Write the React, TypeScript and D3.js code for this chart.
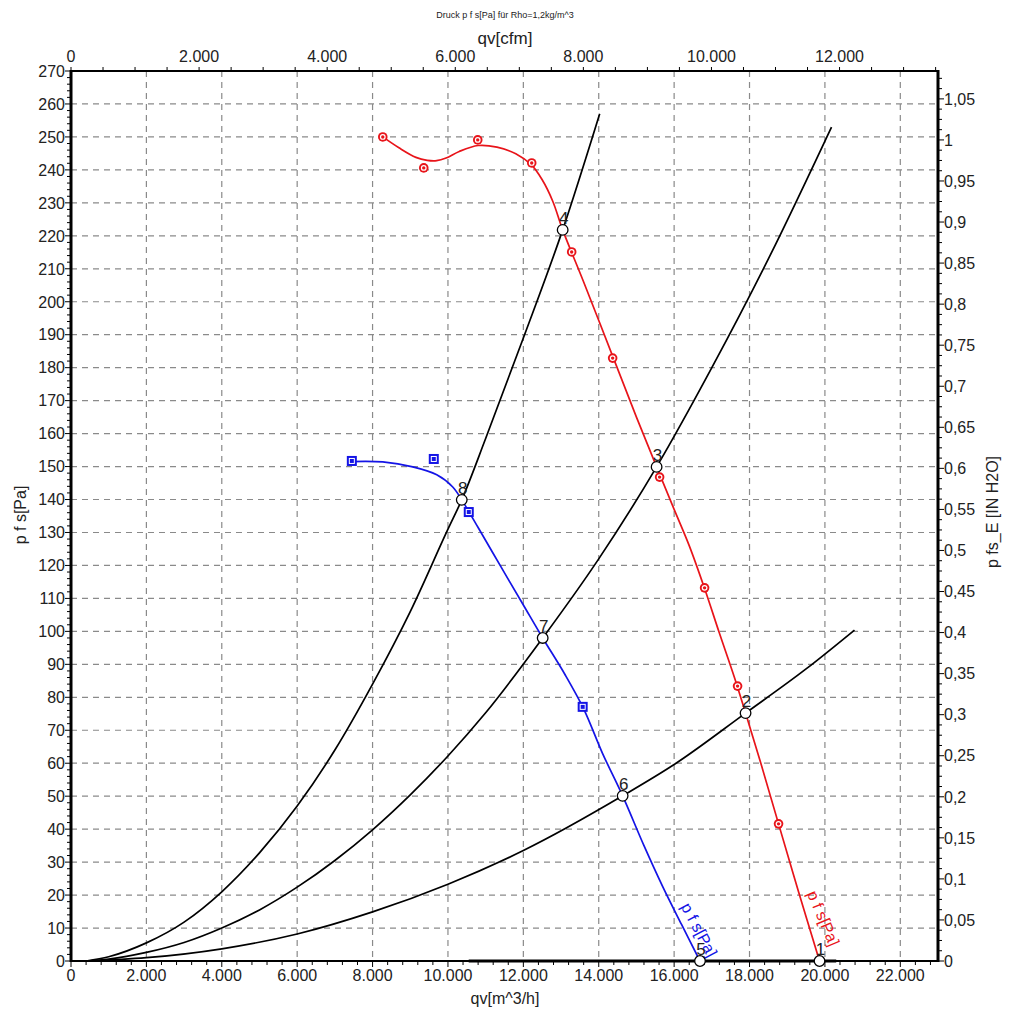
import React from "react";
import * as d3 from "d3";

// ---------- data ----------
const titleText = "Druck p f s[Pa] für Rho=1,2kg/m^3";
const xTicksBottom = [0, 2000, 4000, 6000, 8000, 10000, 12000, 14000, 16000, 18000, 20000, 22000];
const xTicksTopCfm = [0, 2000, 4000, 6000, 8000, 10000, 12000];
const yTicksLeft = d3.range(0, 271, 10);
const yTicksRight = [0, 0.05, 0.1, 0.15, 0.2, 0.25, 0.3, 0.35, 0.4, 0.45, 0.5, 0.55, 0.6, 0.65, 0.7, 0.75, 0.8, 0.85, 0.9, 0.95, 1, 1.05];

// system curves [q m^3/h, p Pa]
const sysCurveA: [number, number][] = [[400, 0], [1000, 1.3], [2000, 5.5], [3000, 11.8], [4000, 21], [5000, 32.8], [6000, 47], [7000, 64], [8000, 84], [9000, 106], [10000, 131], [10366, 139.9], [11000, 158.5], [12000, 189], [13043, 221.8], [14024, 257]];
const sysCurveB: [number, number][] = [[400, 0], [1000, 0.6], [2000, 2.6], [3000, 5.6], [4000, 10], [5000, 15.5], [6000, 22.4], [7000, 30.5], [8000, 39.8], [9000, 50.4], [10000, 62.2], [11000, 75.3], [12513, 98], [14000, 122], [15535, 149.9], [17000, 180], [18500, 213], [20175, 253]];
const sysCurveC: [number, number][] = [[400, 0], [2000, 1], [4000, 3.7], [6000, 8.2], [8000, 14.9], [10000, 23.3], [12000, 33.5], [14634, 50.1], [16000, 59.6], [17895, 75.2], [19500, 88.6], [20785, 100.4]];

// red fan curve (fitted line) and its measured points
const redLine: [number, number][] = [[8271, 250], [8700, 246.7], [9150, 243.8], [9450, 242.9], [9700, 242.8], [9950, 243.6], [10300, 245.6], [10800, 247.4], [11300, 246.9], [11800, 244.9], [12214, 241.5], [12500, 237], [12780, 230.5], [13043, 221.8], [13600, 206], [14369, 183.5], [15000, 165], [15535, 149.9], [16000, 137], [16400, 126], [16808, 113], [17200, 99.5], [17600, 86], [17895, 75.2], [18300, 60], [18770, 41.6], [19300, 21], [19857, 0]];
const redMarkers: [number, number][] = [[8271, 250], [9358, 240.6], [10790, 249.1], [12222, 242.1], [13282, 215.1], [14369, 182.9], [15615, 146.8], [16808, 113.2], [17683, 83.4], [18770, 41.6]];

// blue fan curve and its measured points
const blueLine: [number, number][] = [[7400, 151.5], [8271, 151.4], [9066, 149.9], [9703, 147.5], [10127, 143.8], [10366, 139.9], [10800, 131.5], [11400, 119.7], [12000, 108], [12513, 98], [13100, 87], [13600, 76.5], [14100, 63], [14634, 50.1], [15200, 35], [15700, 22.5], [16200, 11], [16686, 0]];
const blueMarkers: [number, number][] = [[7450, 151.7], [9624, 152.3], [10552, 136.2], [13574, 77.1]];

// operating points
const opLabels = ["1", "2", "3", "4", "5", "6", "7", "8"];
const opQ = [19857, 17895, 15535, 13043, 16686, 14634, 12513, 10366];
const opP = [0, 75.2, 149.9, 221.8, 0, 50.1, 98, 139.9];

const zeroLine: [number, number][] = [[10550, 0], [20300, 0]];

// ---------- layout ----------
const W = 1011, H = 1024;
const L = 71, R = 938, T = 71, B = 961;
const CFM = 1.699011; // m3/h per cfm
const PA_PER_INH2O = 249.089;
const font = "'Liberation Sans', Arial, sans-serif";

export default function App() {
  const x = d3.scaleLinear().domain([0, 23000]).range([L, R]);
  const xTop = d3.scaleLinear().domain([0, 23000 / CFM]).range([L, R]);
  const y = d3.scaleLinear().domain([0, 270]).range([B, T]);
  const yR = d3.scaleLinear().domain([0, 270 / PA_PER_INH2O]).range([B, T]);

  const smooth = d3.line<[number, number]>().x(d => x(d[0])).y(d => y(d[1])).curve(d3.curveMonotoneX);
  const spline = d3.line<[number, number]>().x(d => x(d[0])).y(d => y(d[1])).curve(d3.curveCatmullRom.alpha(0.5));
  const straight = d3.line<[number, number]>().x(d => x(d[0])).y(d => y(d[1]));

  const fmt = (v: number) => d3.format(",")(v).replace(/,/g, ".");
  const fmtR = (v: number) => String(+v.toFixed(2)).replace(".", ",");

  const leftMinor = d3.range(0, 271, 2);
  const rightMinor = d3.range(0, 270 / PA_PER_INH2O, 0.0125);
  const bottomMinor = d3.range(0, 23001, 400);
  const topMinor = d3.range(0, 23000 / CFM, 500);

  const gridStyle = { stroke: "#8a8a8a", strokeWidth: 1.2, strokeDasharray: "6,5" };

  return (
    <svg width={W} height={H} style={{ position: "absolute", left: 0, top: 0, background: "#fff" }} fontFamily={font}>
      <rect x={0} y={0} width={W} height={H} fill="#fff" />
      {/* grid */}
      {yTicksLeft.filter(v => v > 0 && v < 270).map(v => (
        <line key={"gy" + v} x1={L} x2={R} y1={y(v)} y2={y(v)} {...gridStyle} />
      ))}
      {xTicksBottom.filter(v => v > 0).map(v => (
        <line key={"gx" + v} x1={x(v)} x2={x(v)} y1={T} y2={B} {...gridStyle} />
      ))}

      {/* titles */}
      <text x={505} y={18} fontSize={9} textAnchor="middle" fill="#222">{titleText}</text>
      <text x={505} y={44} fontSize={17} textAnchor="middle" fill="#222">qv[cfm]</text>
      <text x={505} y={1004} fontSize={16} textAnchor="middle" fill="#222">qv[m^3/h]</text>
      <text transform={`translate(26,515) rotate(-90)`} fontSize={16} textAnchor="middle" fill="#222">p f s[Pa]</text>
      <text transform={`translate(998,512) rotate(-90)`} fontSize={16} textAnchor="middle" fill="#222">p fs_E [IN H2O]</text>

      {/* top axis */}
      <line x1={L} x2={R} y1={T} y2={T} stroke="#000" strokeWidth={2} />
      {topMinor.map(v => (
        <line key={"tm" + v} x1={xTop(v)} x2={xTop(v)} y1={T} y2={T - 4} stroke="#000" strokeWidth={1} />
      ))}
      {xTicksTopCfm.map(v => (
        <text key={"tt" + v} x={xTop(v)} y={62} fontSize={16} textAnchor="middle" fill="#222">{fmt(v)}</text>
      ))}

      {/* bottom axis */}
      <line x1={L} x2={R} y1={B} y2={B} stroke="#000" strokeWidth={2} />
      {bottomMinor.map(v => (
        <line key={"bm" + v} x1={x(v)} x2={x(v)} y1={B} y2={B + (v % 2000 === 0 ? 6 : 4)} stroke="#000" strokeWidth={1} />
      ))}
      {xTicksBottom.map(v => (
        <text key={"bt" + v} x={x(v)} y={981} fontSize={16} textAnchor="middle" fill="#222">{fmt(v)}</text>
      ))}

      {/* left axis */}
      {leftMinor.map(v => (
        <line key={"lm" + v} x1={L} x2={L - (v % 10 === 0 ? 6 : 4)} y1={y(v)} y2={y(v)} stroke="#000" strokeWidth={1} />
      ))}
      <line x1={L} x2={L} y1={T - 1} y2={B + 1} stroke="#000" strokeWidth={3} />
      {yTicksLeft.map(v => (
        <text key={"lt" + v} x={65} y={y(v)} dy="0.36em" fontSize={16} textAnchor="end" fill="#222">{v}</text>
      ))}

      {/* right axis */}
      {rightMinor.map((v, i) => (
        <line key={"rm" + i} x1={R} x2={R + (i % 4 === 0 ? 6 : 4)} y1={yR(v)} y2={yR(v)} stroke="#000" strokeWidth={1} />
      ))}
      <line x1={R} x2={R} y1={T - 1} y2={B + 1} stroke="#000" strokeWidth={3} />
      {yTicksRight.map(v => (
        <text key={"rt" + v} x={944} y={yR(v)} dy="0.36em" fontSize={16} textAnchor="start" fill="#222">{fmtR(v)}</text>
      ))}

      {/* thick zero line */}
      <path d={straight(zeroLine) || ""} stroke="#000" strokeWidth={3} fill="none" />

      {/* system curves */}
      {[sysCurveA, sysCurveB, sysCurveC].map((c, i) => (
        <path key={"sc" + i} d={smooth(c) || ""} stroke="#000" strokeWidth={1.7} fill="none" />
      ))}

      {/* red curve */}
      <path d={spline(redLine) || ""} stroke="#e8141a" strokeWidth={1.7} fill="none" />
      {redMarkers.map((d, i) => (
        <g key={"rmk" + i} transform={`translate(${x(d[0])},${y(d[1])})`}>
          <circle r={4.8} fill="#e8141a" />
          <circle r={2.9} fill="#fff" />
          <circle r={1.7} fill="#e8141a" />
        </g>
      ))}
      <text transform={`translate(${x(19520)},${y(20.5)}) rotate(67)`} fontSize={16} fill="#e8141a">p f s[Pa]</text>

      {/* blue curve */}
      <path d={spline(blueLine) || ""} stroke="#1414e6" strokeWidth={1.7} fill="none" />
      {blueMarkers.map((d, i) => (
        <g key={"bmk" + i} transform={`translate(${x(d[0])},${y(d[1])})`}>
          <rect x={-5} y={-5} width={10} height={10} fill="#1414e6" />
          <rect x={-2.5} y={-2.5} width={5} height={5} fill="none" stroke="#fff" strokeWidth={1} />
        </g>
      ))}
      <text transform={`translate(${x(16170)},${y(16.5)}) rotate(62)`} fontSize={16} fill="#1414e6">p f s[Pa]</text>

      {/* operating points */}
      {opLabels.map((lab, i) => (
        <g key={"op" + lab}>
          <circle cx={x(opQ[i])} cy={y(opP[i])} r={5.3} fill="#fff" stroke="#000" strokeWidth={1.3} />
          <text x={x(opQ[i]) + 1} y={y(opP[i]) - 6} fontSize={17} textAnchor="middle" fill="#222">{lab}</text>
        </g>
      ))}
    </svg>
  );
}
